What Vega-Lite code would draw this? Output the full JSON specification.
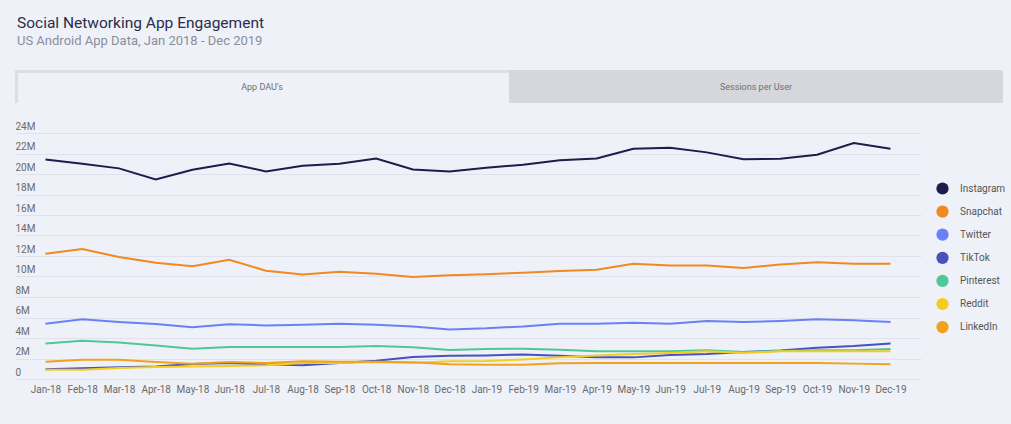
{
  "$schema": "https://vega.github.io/schema/vega-lite/v6.json",
  "background": "#eef1f8",
  "padding": {"left": 15, "top": 15, "right": 8, "bottom": 31},
  "title": {
    "text": "Social Networking App Engagement",
    "subtitle": "US Android App Data, Jan 2018 - Dec 2019",
    "anchor": "start",
    "font": "Roboto",
    "fontSize": 15.5,
    "fontWeight": "normal",
    "color": "#2b2d4a",
    "subtitleFont": "Roboto",
    "subtitleFontSize": 13,
    "subtitleColor": "#8b8e9a",
    "subtitlePadding": 4,
    "dx": 2,
    "offset": 22
  },
  "config": {"view": {"stroke": null}, "font": "Roboto"},
  "spacing": 18,
  "datasets": {
    "tabs": [
      {"tab": "App DAU’s", "active": "yes"},
      {"tab": "Sessions per User", "active": "no"}
    ],
    "dau": [
      {"month": "Jan-18", "app": "Instagram", "dau": 21.42},
      {"month": "Feb-18", "app": "Instagram", "dau": 21.0},
      {"month": "Mar-18", "app": "Instagram", "dau": 20.55},
      {"month": "Apr-18", "app": "Instagram", "dau": 19.47},
      {"month": "May-18", "app": "Instagram", "dau": 20.42},
      {"month": "Jun-18", "app": "Instagram", "dau": 21.03},
      {"month": "Jul-18", "app": "Instagram", "dau": 20.25},
      {"month": "Aug-18", "app": "Instagram", "dau": 20.81},
      {"month": "Sep-18", "app": "Instagram", "dau": 21.0},
      {"month": "Oct-18", "app": "Instagram", "dau": 21.52},
      {"month": "Nov-18", "app": "Instagram", "dau": 20.45},
      {"month": "Dec-18", "app": "Instagram", "dau": 20.25},
      {"month": "Jan-19", "app": "Instagram", "dau": 20.62},
      {"month": "Feb-19", "app": "Instagram", "dau": 20.91},
      {"month": "Mar-19", "app": "Instagram", "dau": 21.33},
      {"month": "Apr-19", "app": "Instagram", "dau": 21.52},
      {"month": "May-19", "app": "Instagram", "dau": 22.47},
      {"month": "Jun-19", "app": "Instagram", "dau": 22.57},
      {"month": "Jul-19", "app": "Instagram", "dau": 22.11},
      {"month": "Aug-19", "app": "Instagram", "dau": 21.43},
      {"month": "Sep-19", "app": "Instagram", "dau": 21.49},
      {"month": "Oct-19", "app": "Instagram", "dau": 21.88},
      {"month": "Nov-19", "app": "Instagram", "dau": 23.02},
      {"month": "Dec-19", "app": "Instagram", "dau": 22.47},
      {"month": "Jan-18", "app": "Snapchat", "dau": 12.22},
      {"month": "Feb-18", "app": "Snapchat", "dau": 12.68},
      {"month": "Mar-18", "app": "Snapchat", "dau": 11.9},
      {"month": "Apr-18", "app": "Snapchat", "dau": 11.35},
      {"month": "May-18", "app": "Snapchat", "dau": 10.99},
      {"month": "Jun-18", "app": "Snapchat", "dau": 11.64},
      {"month": "Jul-18", "app": "Snapchat", "dau": 10.57},
      {"month": "Aug-18", "app": "Snapchat", "dau": 10.2},
      {"month": "Sep-18", "app": "Snapchat", "dau": 10.47},
      {"month": "Oct-18", "app": "Snapchat", "dau": 10.27},
      {"month": "Nov-18", "app": "Snapchat", "dau": 9.95},
      {"month": "Dec-18", "app": "Snapchat", "dau": 10.11},
      {"month": "Jan-19", "app": "Snapchat", "dau": 10.22},
      {"month": "Feb-19", "app": "Snapchat", "dau": 10.37},
      {"month": "Mar-19", "app": "Snapchat", "dau": 10.53},
      {"month": "Apr-19", "app": "Snapchat", "dau": 10.66},
      {"month": "May-19", "app": "Snapchat", "dau": 11.25},
      {"month": "Jun-19", "app": "Snapchat", "dau": 11.08},
      {"month": "Jul-19", "app": "Snapchat", "dau": 11.08},
      {"month": "Aug-19", "app": "Snapchat", "dau": 10.83},
      {"month": "Sep-19", "app": "Snapchat", "dau": 11.18},
      {"month": "Oct-19", "app": "Snapchat", "dau": 11.38},
      {"month": "Nov-19", "app": "Snapchat", "dau": 11.25},
      {"month": "Dec-19", "app": "Snapchat", "dau": 11.25},
      {"month": "Jan-18", "app": "Twitter", "dau": 5.4},
      {"month": "Feb-18", "app": "Twitter", "dau": 5.82},
      {"month": "Mar-18", "app": "Twitter", "dau": 5.56},
      {"month": "Apr-18", "app": "Twitter", "dau": 5.36},
      {"month": "May-18", "app": "Twitter", "dau": 5.04},
      {"month": "Jun-18", "app": "Twitter", "dau": 5.33},
      {"month": "Jul-18", "app": "Twitter", "dau": 5.23},
      {"month": "Aug-18", "app": "Twitter", "dau": 5.3},
      {"month": "Sep-18", "app": "Twitter", "dau": 5.4},
      {"month": "Oct-18", "app": "Twitter", "dau": 5.3},
      {"month": "Nov-18", "app": "Twitter", "dau": 5.13},
      {"month": "Dec-18", "app": "Twitter", "dau": 4.84},
      {"month": "Jan-19", "app": "Twitter", "dau": 4.94},
      {"month": "Feb-19", "app": "Twitter", "dau": 5.13},
      {"month": "Mar-19", "app": "Twitter", "dau": 5.4},
      {"month": "Apr-19", "app": "Twitter", "dau": 5.4},
      {"month": "May-19", "app": "Twitter", "dau": 5.49},
      {"month": "Jun-19", "app": "Twitter", "dau": 5.4},
      {"month": "Jul-19", "app": "Twitter", "dau": 5.66},
      {"month": "Aug-19", "app": "Twitter", "dau": 5.56},
      {"month": "Sep-19", "app": "Twitter", "dau": 5.66},
      {"month": "Oct-19", "app": "Twitter", "dau": 5.82},
      {"month": "Nov-19", "app": "Twitter", "dau": 5.72},
      {"month": "Dec-19", "app": "Twitter", "dau": 5.56},
      {"month": "Jan-18", "app": "TikTok", "dau": 0.94},
      {"month": "Feb-18", "app": "TikTok", "dau": 1.04},
      {"month": "Mar-18", "app": "TikTok", "dau": 1.14},
      {"month": "Apr-18", "app": "TikTok", "dau": 1.23},
      {"month": "May-18", "app": "TikTok", "dau": 1.46},
      {"month": "Jun-18", "app": "TikTok", "dau": 1.56},
      {"month": "Jul-18", "app": "TikTok", "dau": 1.43},
      {"month": "Aug-18", "app": "TikTok", "dau": 1.33},
      {"month": "Sep-18", "app": "TikTok", "dau": 1.56},
      {"month": "Oct-18", "app": "TikTok", "dau": 1.79},
      {"month": "Nov-18", "app": "TikTok", "dau": 2.15},
      {"month": "Dec-18", "app": "TikTok", "dau": 2.27},
      {"month": "Jan-19", "app": "TikTok", "dau": 2.3},
      {"month": "Feb-19", "app": "TikTok", "dau": 2.4},
      {"month": "Mar-19", "app": "TikTok", "dau": 2.27},
      {"month": "Apr-19", "app": "TikTok", "dau": 2.11},
      {"month": "May-19", "app": "TikTok", "dau": 2.11},
      {"month": "Jun-19", "app": "TikTok", "dau": 2.34},
      {"month": "Jul-19", "app": "TikTok", "dau": 2.44},
      {"month": "Aug-19", "app": "TikTok", "dau": 2.63},
      {"month": "Sep-19", "app": "TikTok", "dau": 2.79},
      {"month": "Oct-19", "app": "TikTok", "dau": 3.05},
      {"month": "Nov-19", "app": "TikTok", "dau": 3.22},
      {"month": "Dec-19", "app": "TikTok", "dau": 3.47},
      {"month": "Jan-18", "app": "Pinterest", "dau": 3.47},
      {"month": "Feb-18", "app": "Pinterest", "dau": 3.74},
      {"month": "Mar-18", "app": "Pinterest", "dau": 3.57},
      {"month": "Apr-18", "app": "Pinterest", "dau": 3.28},
      {"month": "May-18", "app": "Pinterest", "dau": 2.96},
      {"month": "Jun-18", "app": "Pinterest", "dau": 3.12},
      {"month": "Jul-18", "app": "Pinterest", "dau": 3.12},
      {"month": "Aug-18", "app": "Pinterest", "dau": 3.12},
      {"month": "Sep-18", "app": "Pinterest", "dau": 3.12},
      {"month": "Oct-18", "app": "Pinterest", "dau": 3.22},
      {"month": "Nov-18", "app": "Pinterest", "dau": 3.09},
      {"month": "Dec-18", "app": "Pinterest", "dau": 2.83},
      {"month": "Jan-19", "app": "Pinterest", "dau": 2.93},
      {"month": "Feb-19", "app": "Pinterest", "dau": 2.96},
      {"month": "Mar-19", "app": "Pinterest", "dau": 2.86},
      {"month": "Apr-19", "app": "Pinterest", "dau": 2.7},
      {"month": "May-19", "app": "Pinterest", "dau": 2.7},
      {"month": "Jun-19", "app": "Pinterest", "dau": 2.7},
      {"month": "Jul-19", "app": "Pinterest", "dau": 2.8},
      {"month": "Aug-19", "app": "Pinterest", "dau": 2.63},
      {"month": "Sep-19", "app": "Pinterest", "dau": 2.73},
      {"month": "Oct-19", "app": "Pinterest", "dau": 2.8},
      {"month": "Nov-19", "app": "Pinterest", "dau": 2.8},
      {"month": "Dec-19", "app": "Pinterest", "dau": 2.93},
      {"month": "Jan-18", "app": "Reddit", "dau": 0.91},
      {"month": "Feb-18", "app": "Reddit", "dau": 0.91},
      {"month": "Mar-18", "app": "Reddit", "dau": 1.07},
      {"month": "Apr-18", "app": "Reddit", "dau": 1.17},
      {"month": "May-18", "app": "Reddit", "dau": 1.23},
      {"month": "Jun-18", "app": "Reddit", "dau": 1.27},
      {"month": "Jul-18", "app": "Reddit", "dau": 1.33},
      {"month": "Aug-18", "app": "Reddit", "dau": 1.56},
      {"month": "Sep-18", "app": "Reddit", "dau": 1.56},
      {"month": "Oct-18", "app": "Reddit", "dau": 1.66},
      {"month": "Nov-18", "app": "Reddit", "dau": 1.56},
      {"month": "Dec-18", "app": "Reddit", "dau": 1.72},
      {"month": "Jan-19", "app": "Reddit", "dau": 1.76},
      {"month": "Feb-19", "app": "Reddit", "dau": 1.91},
      {"month": "Mar-19", "app": "Reddit", "dau": 2.11},
      {"month": "Apr-19", "app": "Reddit", "dau": 2.3},
      {"month": "May-19", "app": "Reddit", "dau": 2.44},
      {"month": "Jun-19", "app": "Reddit", "dau": 2.54},
      {"month": "Jul-19", "app": "Reddit", "dau": 2.7},
      {"month": "Aug-19", "app": "Reddit", "dau": 2.54},
      {"month": "Sep-19", "app": "Reddit", "dau": 2.7},
      {"month": "Oct-19", "app": "Reddit", "dau": 2.7},
      {"month": "Nov-19", "app": "Reddit", "dau": 2.7},
      {"month": "Dec-19", "app": "Reddit", "dau": 2.7},
      {"month": "Jan-18", "app": "LinkedIn", "dau": 1.69},
      {"month": "Feb-18", "app": "LinkedIn", "dau": 1.88},
      {"month": "Mar-18", "app": "LinkedIn", "dau": 1.88},
      {"month": "Apr-18", "app": "LinkedIn", "dau": 1.66},
      {"month": "May-18", "app": "LinkedIn", "dau": 1.5},
      {"month": "Jun-18", "app": "LinkedIn", "dau": 1.66},
      {"month": "Jul-18", "app": "LinkedIn", "dau": 1.56},
      {"month": "Aug-18", "app": "LinkedIn", "dau": 1.72},
      {"month": "Sep-18", "app": "LinkedIn", "dau": 1.69},
      {"month": "Oct-18", "app": "LinkedIn", "dau": 1.69},
      {"month": "Nov-18", "app": "LinkedIn", "dau": 1.63},
      {"month": "Dec-18", "app": "LinkedIn", "dau": 1.43},
      {"month": "Jan-19", "app": "LinkedIn", "dau": 1.4},
      {"month": "Feb-19", "app": "LinkedIn", "dau": 1.4},
      {"month": "Mar-19", "app": "LinkedIn", "dau": 1.53},
      {"month": "Apr-19", "app": "LinkedIn", "dau": 1.56},
      {"month": "May-19", "app": "LinkedIn", "dau": 1.56},
      {"month": "Jun-19", "app": "LinkedIn", "dau": 1.56},
      {"month": "Jul-19", "app": "LinkedIn", "dau": 1.56},
      {"month": "Aug-19", "app": "LinkedIn", "dau": 1.56},
      {"month": "Sep-19", "app": "LinkedIn", "dau": 1.56},
      {"month": "Oct-19", "app": "LinkedIn", "dau": 1.56},
      {"month": "Nov-19", "app": "LinkedIn", "dau": 1.5},
      {"month": "Dec-19", "app": "LinkedIn", "dau": 1.43}
    ]
  },
  "vconcat": [
    {
      "width": 988,
      "height": 33,
      "data": {"name": "tabs"},
      "encoding": {
        "x": {"field": "tab", "type": "nominal", "scale": {"domain": ["App DAU’s", "Sessions per User"], "paddingInner": 0, "paddingOuter": 0}, "axis": null}
      },
      "layer": [
        {"transform": [{"filter": "datum.active == 'yes'"}], "mark": {"type": "bar", "color": "#dcdee4"}},
        {"transform": [{"filter": "datum.active == 'yes'"}], "mark": {"type": "bar", "color": "#eef1f8", "xOffset": 3, "yOffset": 3}},
        {"transform": [{"filter": "datum.active == 'no'"}], "mark": {"type": "bar", "color": "#d6d7dc", "cornerRadiusTopRight": 3}},
        {"mark": {"type": "text", "fontSize": 9, "color": "#707070", "font": "Roboto"}, "encoding": {"text": {"field": "tab"}}}
      ]
    },
    {
      "width": 906,
      "height": 246,
      "data": {"name": "dau"},
      "mark": {"type": "line", "strokeWidth": 2},
      "encoding": {
        "x": {
          "field": "month", "type": "ordinal", "sort": null,
          "scale": {"type": "point", "padding": 0.83},
          "axis": {"title": null, "labelAngle": 0, "domain": false, "ticks": false, "grid": false, "labelPadding": 5, "labelFontSize": 10, "labelColor": "#6a6a6a", "labelFont": "Roboto"}
        },
        "y": {
          "field": "dau", "type": "quantitative",
          "scale": {"domain": [0, 24], "nice": false},
          "axis": {
            "title": null,
            "values": [0, 2, 4, 6, 8, 10, 12, 14, 16, 18, 20, 22, 24],
            "labelExpr": "datum.value == 0 ? '0' : datum.value + 'M'",
            "domain": false, "ticks": false,
            "labelAlign": "left", "labelPadding": 0, "labelBaseline": "alphabetic", "labelOffset": -4,
            "labelFontSize": 10, "labelColor": "#6a6a6a", "labelFont": "Roboto",
            "gridColor": "#dfe2ea", "gridWidth": 1
          }
        },
        "color": {
          "field": "app", "type": "nominal",
          "scale": {
            "domain": ["Instagram", "Snapchat", "Twitter", "TikTok", "Pinterest", "Reddit", "LinkedIn"],
            "range": ["#1e1c4b", "#f08a1e", "#6b80f6", "#4752bc", "#50c896", "#f5cd1f", "#f2a11a"]
          },
          "legend": {
            "title": null,
            "orient": "none",
            "legendX": 921,
            "legendY": 112,
            "symbolType": "circle",
            "symbolSize": 150,
            "symbolStrokeWidth": 0,
            "labelFontSize": 10,
            "labelColor": "#555555",
            "labelFont": "Roboto",
            "labelOffset": 11,
            "rowPadding": 10.1,
            "encode": {"symbols": {"update": {"fill": {"scale": "color", "field": "value"}, "opacity": {"value": 1}}}}
          }
        }
      }
    }
  ]
}
